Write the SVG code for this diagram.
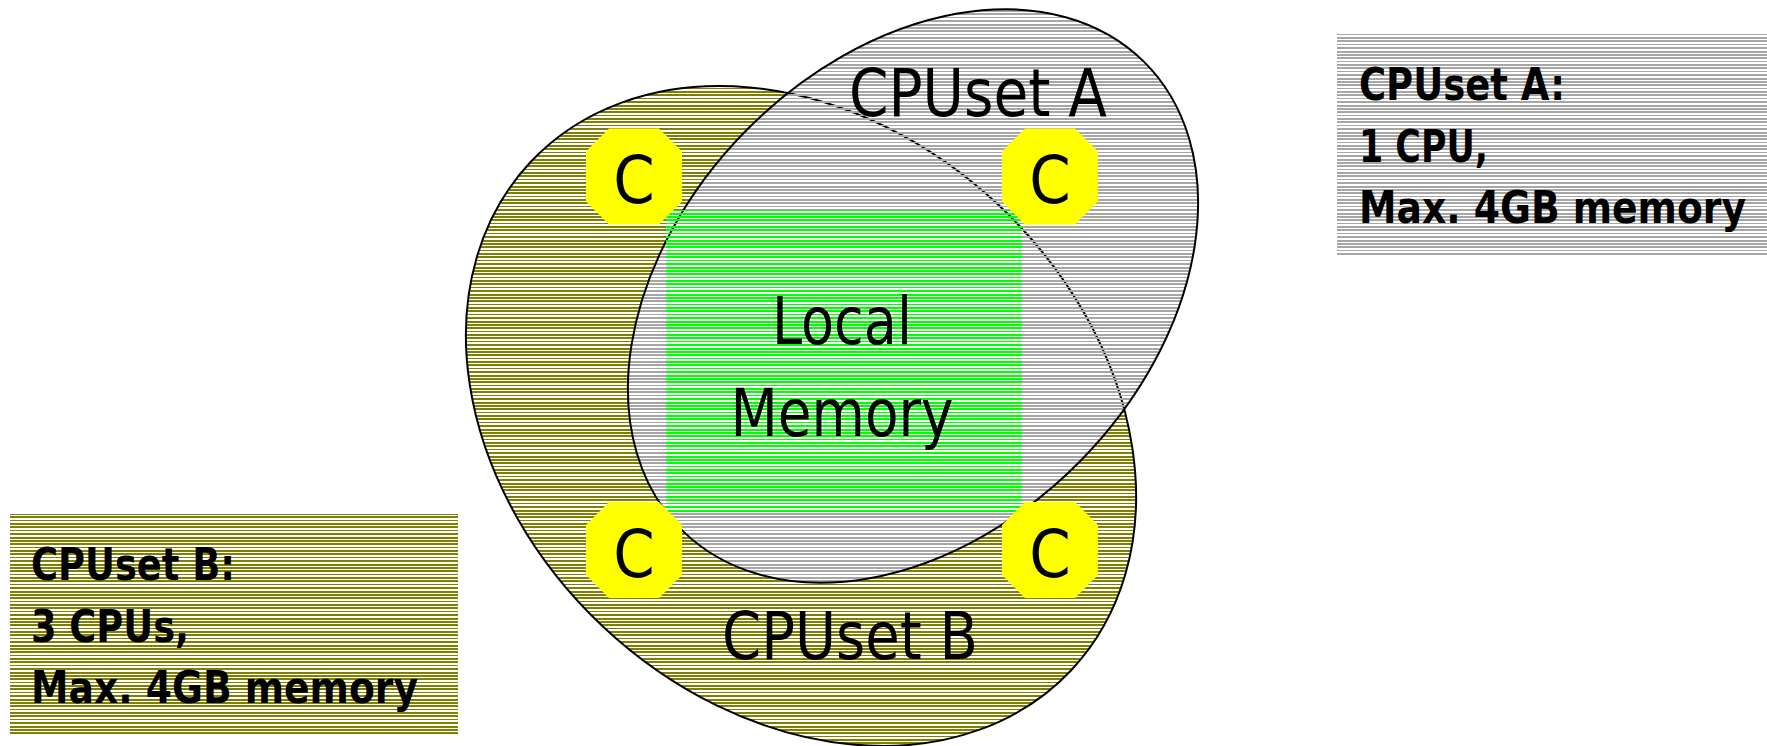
<svg xmlns="http://www.w3.org/2000/svg" width="1767" height="746" viewBox="0 0 1767 746">
  <defs>
    <g id="rows">
      <rect x="0" y="0" width="27" height="2"/>
      <rect x="0" y="3" width="27" height="2"/>
      <rect x="0" y="7" width="27" height="1"/>
      <rect x="0" y="10" width="27" height="2"/>
      <rect x="0" y="13" width="27" height="2"/>
      <rect x="0" y="17" width="27" height="1"/>
      <rect x="0" y="20" width="27" height="2"/>
      <rect x="0" y="24" width="27" height="2"/>
    </g>
    <pattern id="hOlive" patternUnits="userSpaceOnUse" x="0" y="0" width="27" height="27">
      <use href="#rows" fill="#808000"/>
    </pattern>
    <pattern id="hOliveRot" href="#hOlive" patternTransform="rotate(-43.2 801 416)"/>
    <pattern id="hGray" patternUnits="userSpaceOnUse" x="0" y="0" width="27" height="27">
      <use href="#rows" fill="#a6a6a6"/>
    </pattern>
    <pattern id="hGrayRot" href="#hGray" patternTransform="rotate(45.5 913 296)"/>
    <pattern id="hGreen" patternUnits="userSpaceOnUse" x="0" y="0" width="27" height="27">
      <use href="#rows" fill="#00ff00"/>
    </pattern>
  </defs>
  <style>
    .big { font-family: "DejaVu Sans Condensed", "DejaVu Sans", sans-serif; font-size: 66px; fill: #000; }
    .info { font-family: "DejaVu Sans Condensed", "DejaVu Sans", sans-serif; font-size: 44px; font-weight: bold; fill: #000; }
    .cpu { fill: #ffff00; stroke: none; }
    .ctext { font-family: "DejaVu Sans Condensed", "DejaVu Sans", sans-serif; font-size: 66px; fill: #000; text-anchor: middle; }
    .outline { stroke: #000; stroke-width: 2; }
  </style>
  <rect width="1767" height="746" fill="#ffffff"/>

  <g id="cpusetB">
    <ellipse cx="801" cy="416" rx="371" ry="289" transform="rotate(43.2 801 416)" fill="url(#hOliveRot)" class="outline"/>
    <text class="big" x="722" y="659" textLength="256" lengthAdjust="spacingAndGlyphs">CPUset B</text>
  </g>

  <g id="cpusetA">
    <ellipse cx="913" cy="296" rx="329" ry="235" transform="rotate(-45.5 913 296)" fill="url(#hGrayRot)" class="outline"/>
    <text class="big" x="849" y="116" textLength="258" lengthAdjust="spacingAndGlyphs">CPUset A</text>
  </g>

  <g id="localMemory">
    <rect x="666" y="210" width="356" height="303" fill="url(#hGreen)"/>
    <text class="big" x="842" y="344" text-anchor="middle" textLength="140" lengthAdjust="spacingAndGlyphs">Local</text>
    <text class="big" x="842" y="436" text-anchor="middle" textLength="223" lengthAdjust="spacingAndGlyphs">Memory</text>
  </g>

  <g id="cpu1" transform="translate(634 176.5)">
    <polygon class="cpu" points="-25,-48 25,-48 48,-25 48,25 25,48 -25,48 -48,25 -48,-25"/>
    <text class="ctext" x="0" y="26.5">C</text>
  </g>
  <g id="cpu2" transform="translate(1050 176.5)">
    <polygon class="cpu" points="-25,-48 25,-48 48,-25 48,25 25,48 -25,48 -48,25 -48,-25"/>
    <text class="ctext" x="0" y="26.5">C</text>
  </g>
  <g id="cpu3" transform="translate(634 550)">
    <polygon class="cpu" points="-25,-48 25,-48 48,-25 48,25 25,48 -25,48 -48,25 -48,-25"/>
    <text class="ctext" x="0" y="26.5">C</text>
  </g>
  <g id="cpu4" transform="translate(1050 550)">
    <polygon class="cpu" points="-25,-48 25,-48 48,-25 48,25 25,48 -25,48 -48,25 -48,-25"/>
    <text class="ctext" x="0" y="26.5">C</text>
  </g>

  <g id="infoA">
    <rect x="1337" y="33" width="430" height="222" fill="url(#hGray)"/>
    <text class="info" x="1359" y="100" textLength="206" lengthAdjust="spacingAndGlyphs">CPUset A:</text>
    <text class="info" x="1359" y="162" textLength="129" lengthAdjust="spacingAndGlyphs">1 CPU,</text>
    <text class="info" x="1359" y="223" textLength="387" lengthAdjust="spacingAndGlyphs">Max. 4GB memory</text>
  </g>

  <g id="infoB">
    <rect x="10" y="514" width="448" height="220" fill="url(#hOlive)"/>
    <text class="info" x="31" y="580" textLength="204" lengthAdjust="spacingAndGlyphs">CPUset B:</text>
    <text class="info" x="31" y="642" textLength="158" lengthAdjust="spacingAndGlyphs">3 CPUs,</text>
    <text class="info" x="31" y="703" textLength="387" lengthAdjust="spacingAndGlyphs">Max. 4GB memory</text>
  </g>

  <g id="connectors"></g>
</svg>
